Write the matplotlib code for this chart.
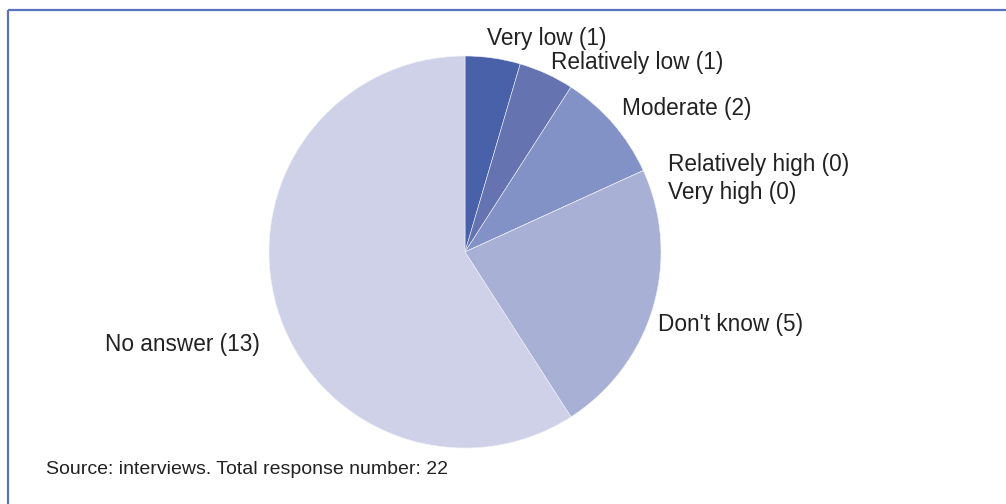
import matplotlib.pyplot as plt

# Responses per category (total 22)
categories = ['Very low', 'Relatively low', 'Moderate', 'Relatively high',
              'Very high', "Don't know", 'No answer']
counts = [1, 1, 2, 0, 0, 5, 13]
colors = ['#4861a8', '#6573b0', '#8392c6', '#8392c6', '#8392c6',
          '#a9b0d6', '#cfd1e8']
source_note = 'Source: interviews. Total response number: 22'

W, H = 1006, 504
fig = plt.figure(figsize=(W / 100, H / 100), dpi=100)
ax = fig.add_axes([0, 0, 1, 1])
ax.axis('off')

cx, cy, r = 465, H - 252, 196
ax.pie(counts, colors=colors, startangle=90, counterclock=False,
       center=(cx, cy), radius=r,
       wedgeprops=dict(edgecolor='#eef0f8', linewidth=0.4))
ax.set_xlim(0, W)
ax.set_ylim(0, H)
ax.set_aspect('auto')

# frame lines (left and top only)
ax.plot([8, 8], [0, H - 10], color='#5b72c0', lw=1.6, solid_capstyle='butt')
ax.plot([8, W], [H - 10, H - 10], color='#5b72c0', lw=1.6, solid_capstyle='butt')

font = dict(family='Liberation Sans', fontsize=16.3, color='#222222', va='center')
labels = [f'{c} ({n})' for c, n in zip(categories, counts)]
# label anchors in pixel coords (x, y from top)
positions = [(487, 38, 'left'), (551, 63, 'left'), (622, 108, 'left'),
             (668, 164, 'left'), (668, 193, 'left'), (658, 324, 'left'),
             (260, 344, 'right')]
for lab, (x, y, ha) in zip(labels, positions):
    ax.text(x, H - y, lab, ha=ha, **font)

ax.text(46, H - 470, source_note, ha='left', va='center',
        family='Liberation Sans', fontsize=14, color='#222222')

fig.savefig('out.png', dpi=100)
